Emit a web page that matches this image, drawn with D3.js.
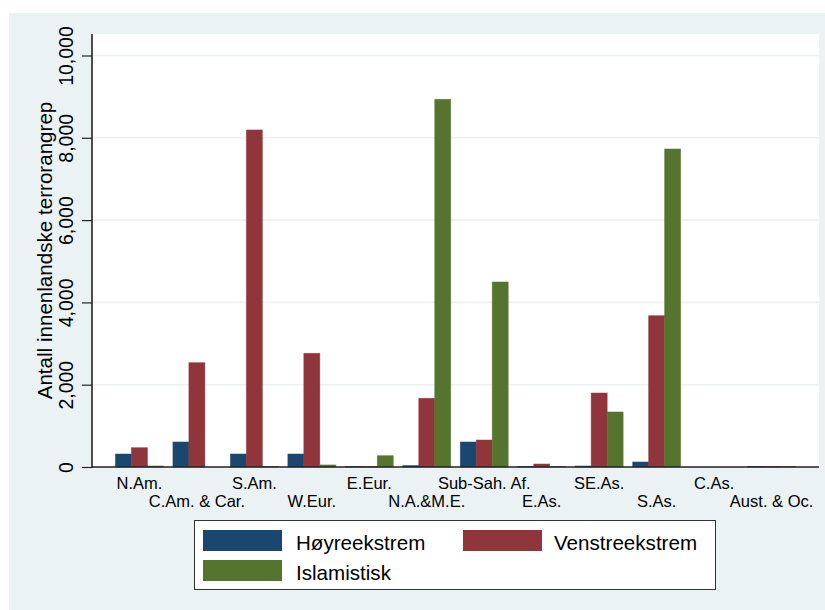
<!DOCTYPE html>
<html>
<head>
<meta charset="utf-8">
<script src="https://cdn.jsdelivr.net/npm/d3@7"></script>
<style>
  body { margin: 0; background: #ffffff; }
  text { font-family: "Liberation Sans", Arial, Helvetica, sans-serif; fill: #000; }
</style>
</head>
<body>
<div id="chart_div"></div>
<script>
// data
const regions = ["N.Am.", "C.Am. & Car.", "S.Am.", "W.Eur.", "E.Eur.", "N.A.&M.E.",
  "Sub-Sah. Af.", "E.As.", "SE.As.", "S.As.", "C.As.", "Aust. & Oc."]
const hoyre = [316, 608, 316, 316, 12, 35, 608, 12, 24, 122, 0, 15]
const venstre = [469, 2535, 8190, 2763, 12, 1670, 656, 73, 1798, 3677, 0, 15]
const islamist = [25, 0, 12, 50, 275, 8935, 4496, 12, 1337, 7728, 0, 15]
const seriesNames = ["Høyreekstrem", "Venstreekstrem", "Islamistisk"]
const seriesColors = ["#1a476f", "#90353b", "#55752f"]
const yTicks = [0, 2000, 4000, 6000, 8000, 10000]
const yTitle = "Antall innenlandske terrorangrep"

const width = 825, height = 610
const plot = { left: 92, top: 34, right: 819, bottom: 467 }
const bgColor = "#eaf2f3"

const svg = d3.select("#chart_div")
  .append("svg")
  .attr("width", width)
  .attr("height", height)

// outer background + plot area
svg.append("rect")
  .attr("x", 9).attr("y", 13)
  .attr("width", width - 9).attr("height", height - 13)
  .attr("fill", bgColor)
svg.append("rect")
  .attr("x", plot.left).attr("y", plot.top)
  .attr("width", plot.right - plot.left).attr("height", plot.bottom - plot.top)
  .attr("fill", "#ffffff")

// scales
const x = d3.scaleBand()
  .domain(regions)
  .range([plot.left, plot.right])
  .paddingInner(0.166)
  .paddingOuter(0.408)

const xSub = d3.scaleBand()
  .domain(seriesNames)
  .range([0, x.bandwidth()])

const y = d3.scaleLinear()
  .domain([0, 10000])
  .range([plot.bottom, plot.bottom - 411.5])

// gridlines
svg.append("g")
  .selectAll("line")
  .data(yTicks.filter(function(d) { return d > 0 }))
  .join("line")
  .attr("x1", plot.left).attr("x2", plot.right)
  .attr("y1", function(d) { return y(d) })
  .attr("y2", function(d) { return y(d) })
  .attr("stroke", bgColor)
  .attr("stroke-width", 1.6)

// bars
const barData = []
regions.forEach(function(r, i) {
  barData.push({ region: r, series: seriesNames[0], value: hoyre[i], color: seriesColors[0] })
  barData.push({ region: r, series: seriesNames[1], value: venstre[i], color: seriesColors[1] })
  barData.push({ region: r, series: seriesNames[2], value: islamist[i], color: seriesColors[2] })
})

svg.append("g")
  .selectAll("rect")
  .data(barData.filter(function(d) { return d.value > 0 }))
  .join("rect")
  .attr("x", function(d) { return x(d.region) + xSub(d.series) })
  .attr("y", function(d) { return y(d.value) })
  .attr("width", xSub.bandwidth())
  .attr("height", function(d) { return y(0) - y(d.value) })
  .attr("fill", function(d) { return d.color })
  .attr("stroke", function(d) { return d.color })
  .attr("stroke-opacity", 0.6)
  .attr("stroke-width", 0.8)

// Add X axis (labels staggered on two rows)
const xAxis = svg.append("g")
  .attr("transform", `translate(0, ${plot.bottom})`)
  .call(d3.axisBottom(x).tickSize(0).tickSizeOuter(0))
xAxis.select(".domain").remove()
xAxis.selectAll("text")
  .attr("font-size", "16.5px")
  .attr("font-family", "Liberation Sans, Arial, sans-serif")
  .attr("fill", "#111")
  .attr("dy", "0")
  .attr("y", function(d, i) { return i % 2 === 0 ? 22 : 39.7 })

// Add Y axis
const yAxis = svg.append("g")
  .attr("transform", `translate(${plot.left}, 0)`)
  .call(d3.axisLeft(y).tickValues(yTicks).tickFormat(d3.format(",")).tickSize(10).tickSizeOuter(0))
yAxis.select(".domain").remove()
yAxis.selectAll(".tick line").attr("stroke", "#222").attr("stroke-width", 1.2)
yAxis.selectAll("text")
  .attr("font-size", "19.5px")
  .attr("font-family", "Liberation Sans, Arial, sans-serif")
  .attr("fill", "#111")
  .attr("text-anchor", "middle")
  .attr("transform", "rotate(-90)")
  .attr("x", 0)
  .attr("y", -19)
  .attr("dy", "0")

// axis lines
svg.append("line")
  .attr("x1", plot.left).attr("x2", plot.left)
  .attr("y1", plot.top).attr("y2", plot.bottom + 1)
  .attr("stroke", "#222").attr("stroke-width", 1.6)
svg.append("line")
  .attr("x1", plot.left).attr("x2", plot.right)
  .attr("y1", plot.bottom).attr("y2", plot.bottom)
  .attr("stroke", "#222").attr("stroke-width", 1.6)

// Y axis title
svg.append("text")
  .attr("transform", `translate(52, ${(plot.top + plot.bottom) / 2}) rotate(-90)`)
  .attr("text-anchor", "middle")
  .attr("font-size", "20.6px")
  .text(yTitle)

// legend
const legend = svg.append("g")
legend.append("rect")
  .attr("x", 194.5).attr("y", 520.5)
  .attr("width", 521).attr("height", 69)
  .attr("fill", "#ffffff")
  .attr("stroke", "#333").attr("stroke-width", 1)

const legendPos = [
  { sx: 203, sy: 530, tx: 296, ty: 550 },
  { sx: 463, sy: 530, tx: 554, ty: 550 },
  { sx: 203, sy: 560, tx: 296, ty: 579.5 },
]
seriesNames.forEach(function(name, i) {
  const p = legendPos[i]
  legend.append("rect")
    .attr("x", p.sx).attr("y", p.sy)
    .attr("width", 79).attr("height", 21)
    .attr("fill", seriesColors[i])
  legend.append("text")
    .attr("x", p.tx).attr("y", p.ty)
    .attr("font-size", "20.6px")
    .text(name)
})
</script>
</body>
</html>
